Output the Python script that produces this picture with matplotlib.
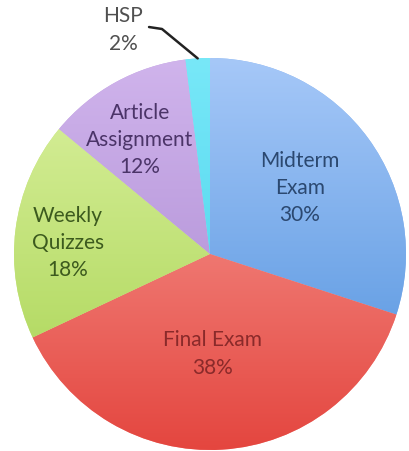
import matplotlib
matplotlib.use("Agg")
import matplotlib.pyplot as plt
import numpy as np
from matplotlib.colors import to_rgb

categories = ["Midterm\nExam", "Final Exam", "Weekly\nQuizzes", "Article\nAssignment", "HSP"]
values = [30, 38, 18, 12, 2]
colors = ["#8AB4F0", "#F38A86", "#CBE886", "#C3A3E3", "#62E0F5"]
top_colors = ["#A6C8F8", "#FAA8A2", "#DCF2A2", "#D0B4EC", "#78E8F8"]
bottom_colors = ["#4A8EDC", "#E4463F", "#A6D24E", "#A684CE", "#3ECDE8"]
text_colors = ["#2B4870", "#8A2A2A", "#3C5A1E", "#4B3468", "#505050"]
label_pos = [(0.459, 0.342), (0.015, -0.505), (-0.724, 0.061), (-0.357, 0.587), (-0.444, 1.148)]

plt.rcParams['font.family'] = ['Lato', 'DejaVu Sans']

fig = plt.figure(figsize=(4.09, 4.52), dpi=100)
ax = fig.add_axes([14/409, 1/452, 392/409, 392/452])
wedges, _ = ax.pie(values, colors=colors, startangle=90, counterclock=False,
                   wedgeprops=dict(linewidth=0))
ax.set_xlim(-1, 1)
ax.set_ylim(-1, 1)
ax.set_aspect('equal')

t = np.linspace(0, 1, 256)[:, None]
for w, ct, cb in zip(wedges, top_colors, bottom_colors):
    a = np.array(to_rgb(ct)); b = np.array(to_rgb(cb))
    grad = (a[None, None, :] * (1 - t[:, :, None]) + b[None, None, :] * t[:, :, None])
    grad = np.repeat(grad, 2, axis=1)
    im = ax.imshow(grad, extent=(-1, 1, -1, 1), origin='upper', aspect='auto',
                   interpolation='bilinear', zorder=1.5)
    im.set_clip_path(w)

for cat, v, tc, (x, y) in zip(categories, values, text_colors, label_pos):
    ax.text(x, y, f"{cat}\n{v}%", ha='center', va='center', fontsize=15,
            color=tc, linespacing=1.45, clip_on=False, zorder=3)

# leader line for HSP
w = wedges[-1]
mid = np.deg2rad((w.theta1 + w.theta2) / 2)
ax.plot([-0.311, -0.245, np.cos(mid)], [1.158, 1.148, np.sin(mid)],
        color="#222222", lw=1.8, clip_on=False, solid_capstyle='round', zorder=3)

ax.set_xlim(-1, 1)
ax.set_ylim(-1, 1)
ax.axis('off')

fig.savefig("out.png", dpi=100)
